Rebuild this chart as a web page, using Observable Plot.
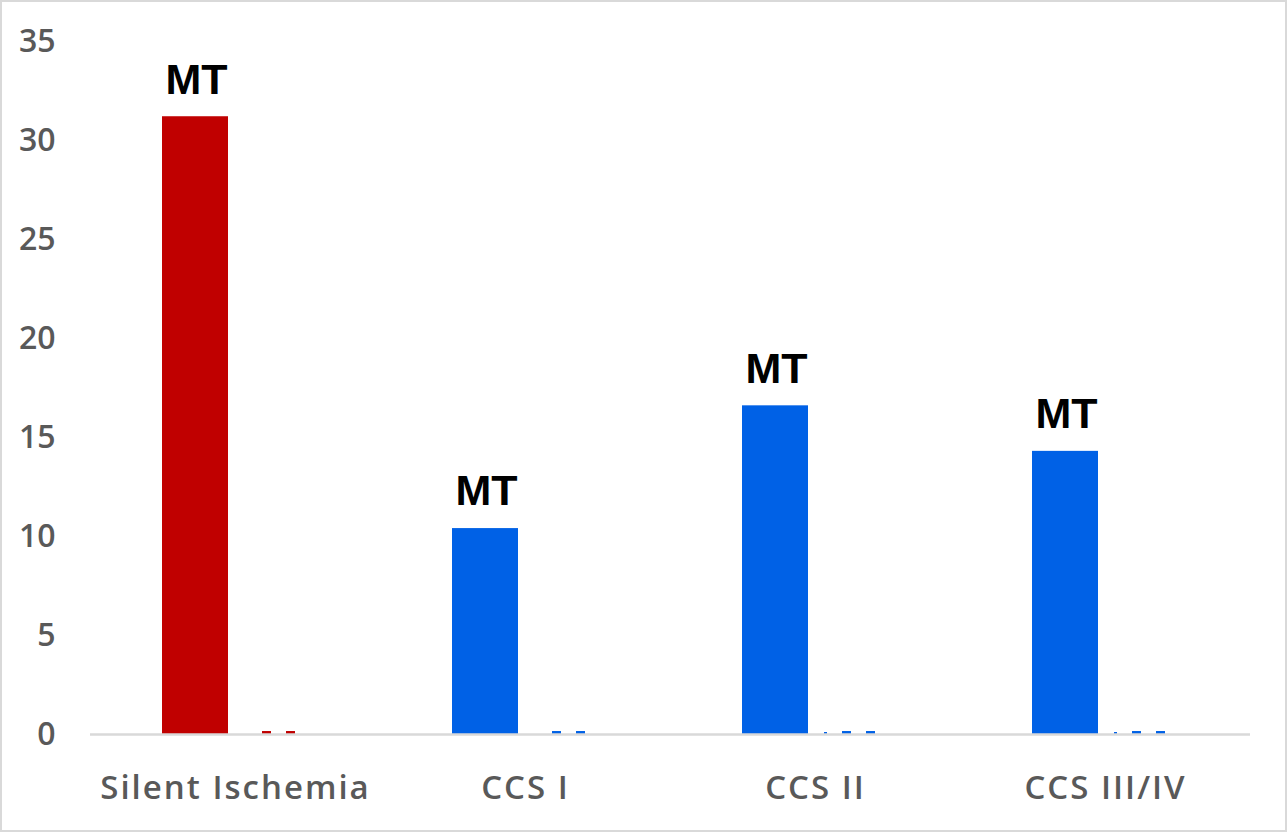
<!DOCTYPE html>
<html>
<head>
<meta charset="utf-8">
<script src="https://cdn.jsdelivr.net/npm/d3@7"></script>
<script src="https://cdn.jsdelivr.net/npm/@observablehq/plot@0.6"></script>
<style>
  html, body { margin: 0; padding: 0; background: #fff; }
  #chart svg { display: block; outline: 2px solid #d9d9d9; outline-offset: -2px; }
  #chart svg g[aria-label="x-axis tick label"] text { letter-spacing: 2px; }
</style>
</head>
<body>
<div id="chart"></div>
<script>
const categories = ["Silent Ischemia", "CCS I", "CCS II", "CCS III/IV"];
const mtValues = [31.2, 10.4, 16.6, 14.3];
const seriesB = [0, 0, 0.1, 0.1];
const seriesC = [0.15, 0.15, 0.15, 0.15];
const seriesD = [0.15, 0.15, 0.15, 0.15];
const barLabel = "MT";
const yTicks = [0, 5, 10, 15, 20, 25, 30, 35];

const rows = (vals) => categories.map((c, i) => ({category: c, value: vals[i]})).filter(d => d.value > 0);
const mt = rows(mtValues);

const BW = 290; // band width in px (derived from layout)
const colorScale = {domain: categories, range: ["#C00000", "#0061E6", "#0061E6", "#0061E6"]};

const chart = Plot.plot({
  width: 1287,
  height: 832,
  marginLeft: 90,
  marginRight: 37,
  marginTop: 41,
  marginBottom: 98,
  style: {background: "#fff"},
  x: {domain: categories, padding: 0, label: null, tickSize: 0, tickPadding: 41},
  y: {domain: [0, 35], ticks: yTicks, label: null, tickSize: 0, tickPadding: 35},
  color: colorScale,
  marks: [
    Plot.axisY({ticks: yTicks, tickSize: 0, tickPadding: 35, label: null, fontSize: 32, fontWeight: 600, fontFamily: "Open Sans", fill: "#595959"}),
    Plot.axisX({tickSize: 0, tickPadding: 41, label: null, fontSize: 33, fontWeight: 600, fontFamily: "Open Sans", fill: "#595959", dx: 0}),
    Plot.barY(mt, {x: "category", y: "value", fill: "category", insetLeft: 72, insetRight: BW - 72 - 66}),
    Plot.barY(rows(seriesB), {x: "category", y: "value", fill: "category", insetLeft: 154, insetRight: BW - 154 - 3}),
    Plot.barY(rows(seriesC), {x: "category", y: "value", fill: "category", insetLeft: 172, insetRight: BW - 172 - 9}),
    Plot.barY(rows(seriesD), {x: "category", y: "value", fill: "category", insetLeft: 196, insetRight: BW - 196 - 9}),
    Plot.ruleY([0], {stroke: "#d9d9d9", strokeWidth: 2.5}),
    Plot.text(mt, {x: "category", y: "value", text: () => barLabel, dx: -39, dy: -37, lineAnchor: "middle", textAnchor: "middle", fontSize: 43, fontWeight: "bold", fontFamily: "Liberation Sans", fill: "#000"})
  ]
});
document.getElementById("chart").append(chart);
</script>
</body>
</html>
